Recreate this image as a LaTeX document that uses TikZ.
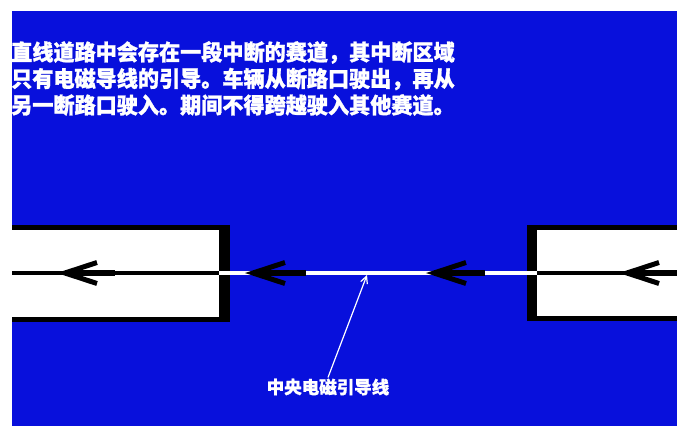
\documentclass[tikz,border=0pt]{standalone}
\usepackage{fontspec}
\newfontfamily\cjk[FakeBold=1.2,FakeStretch=0.96]{Noto Sans CJK SC}
\newfontfamily\cjklbl[FakeBold=1]{Noto Sans CJK SC}
\usetikzlibrary{arrows.meta}
\definecolor{bg}{RGB}{8,16,220}
\begin{document}
\begin{tikzpicture}[x=1pt,y=-1pt,
  track/.style={line width=4.5pt},
  shaft/.style={line width=6pt,black},
  chev/.style={line width=5pt,black,line join=miter,miter limit=10},
  title/.style={text=white,font=\cjk\bfseries\fontsize{22}{26.5}\selectfont,align=left,inner sep=0pt,anchor=north west},
  lbl/.style={text=white,font=\cjklbl\bfseries\fontsize{17.5}{19}\selectfont,inner sep=1pt},
  pointer/.style={white,line width=1.2pt,-{Straight Barb[length=7pt,width=7pt]}}]
\useasboundingbox (0,0) rectangle (677,426);
\fill[white] (0,0) rectangle (677,426);
\fill[bg] (12,11) rectangle (677,426);
\begin{scope}
\clip (12,11) rectangle (677,426);
% boxes
\fill[black] (12,225) rectangle (230,322);
\fill[white] (12,230) rectangle (219,317);
\fill[black] (527,225) rectangle (680,321);
\fill[white] (537,230) rectangle (680,316);
% center line
\coordinate (l0) at (12,273);
\coordinate (l1) at (219,273);
\coordinate (r0) at (537,273);
\coordinate (r1) at (680,273);
\coordinate (gp) at (367,275);
\draw[track,black] (l0) -- (l1);
\draw[track,white] (l1) -- (r0);
\draw[track,black] (r0) -- (r1);
% direction arrows
\foreach \tx/\len in {65/50,253/53,434/51,627/60}{
  \coordinate (t) at (\tx,273);
  \draw[shaft] (t) -- ++(\len,0);
  \draw[chev] ([shift={(32,-10.5)}]t) -- (t) -- ([shift={(32,10.5)}]t);
}
\end{scope}
\node[title] (txt) at (11,41) {直线道路中会存在一段中断的赛道，其中断区域\\只有电磁导线的引导。车辆从断路口驶出，再从\\另一断路口驶入。期间不得跨越驶入其他赛道。};
\node[lbl] (lab) at (328,387) {中央电磁引导线};
\draw[pointer] (lab.north) -- (gp);
\end{tikzpicture}
\end{document}
